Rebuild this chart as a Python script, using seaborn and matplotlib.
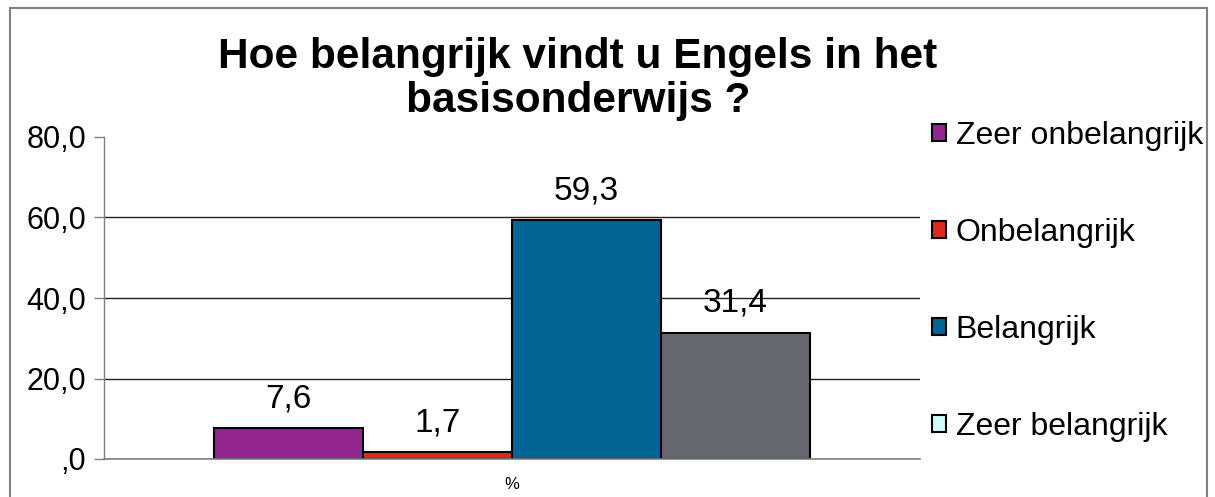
import matplotlib
matplotlib.use('Agg')
import matplotlib.pyplot as plt
from matplotlib.patches import Patch, Rectangle
import pandas as pd
import seaborn as sns

# Data
answers = ['Zeer onbelangrijk', 'Onbelangrijk', 'Belangrijk', 'Zeer belangrijk']
percent = [7.6, 1.7, 59.3, 31.4]
category = ['%', '%', '%', '%']
y_ticks = [0, 20, 40, 60, 80]

bar_colors = ['#93278F', '#DC2A1E', '#036496', '#656870']
legend_colors = ['#93278F', '#DC2A1E', '#036496', '#CCFFFF']

df = pd.DataFrame({'cat': category, 'answer': answers, 'value': percent})

sns.set_theme(style='white')
plt.rcParams['font.family'] = ['Liberation Sans', 'DejaVu Sans']
plt.rcParams['text.color'] = 'black'
plt.rcParams['xtick.color'] = 'black'
plt.rcParams['ytick.color'] = 'black'

fig = plt.figure(figsize=(12.15, 4.97), dpi=100)
ax = fig.add_axes([104 / 1215, 1 - 459 / 497, 816 / 1215, 322 / 497])

sns.barplot(data=df, x='cat', y='value', hue='answer', hue_order=answers,
            palette=bar_colors, width=0.73, gap=0, saturation=1,
            edgecolor='black', linewidth=1.5, legend=False, ax=ax)

for cont in ax.containers:
    ax.bar_label(cont, labels=[f'{v:.1f}'.replace('.', ',') for v in cont.datavalues],
                 padding=10, fontsize=24, color='black')

ax.set_ylim(0, 80)
ax.set_xlim(-0.5, 0.5)
ax.set_yticks(y_ticks)
ax.set_yticklabels([f'{v:.1f}'.replace('.', ',') if v else ',0' for v in y_ticks], fontsize=22)
ax.tick_params(axis='y', length=7, width=1, color='#808080', labelcolor='black', pad=6, left=True)
ax.tick_params(axis='x', length=0, labelsize=12, labelcolor='black', pad=13)
ax.set_xlabel('')
ax.set_ylabel('')

ax.yaxis.grid(True, color='#222222', linewidth=1)
ax.set_axisbelow(True)
ax.get_ygridlines()[-1].set_visible(False)
for s in ['top', 'right']:
    ax.spines[s].set_visible(False)
ax.spines['left'].set_color('#808080')
ax.spines['bottom'].set_color('#808080')
ax.spines['left'].set_linewidth(1)
ax.spines['bottom'].set_linewidth(1.2)

fig.text(578 / 1215, 1 - 79 / 497, 'Hoe belangrijk vindt u Engels in het\nbasisonderwijs ?',
         ha='center', va='center', fontsize=30.5, fontweight='bold', linespacing=1.12,
         color='black')

handles = [Patch(facecolor=c, edgecolor='black', linewidth=1.5) for c in legend_colors]
fig.legend(handles, answers, loc='upper left', bbox_to_anchor=(919 / 1215, 1 - 108 / 497),
           frameon=False, fontsize=23, handlelength=0.45, handleheight=0.45,
           handletextpad=0.3, labelspacing=2.1, borderaxespad=0)

fig.patches.append(Rectangle((10 / 1215, -0.05), 1197 / 1215, 1.05 - 8 / 497,
                             transform=fig.transFigure, fill=False,
                             edgecolor='#808080', linewidth=1.5))

fig.savefig('out.png', dpi=100)
